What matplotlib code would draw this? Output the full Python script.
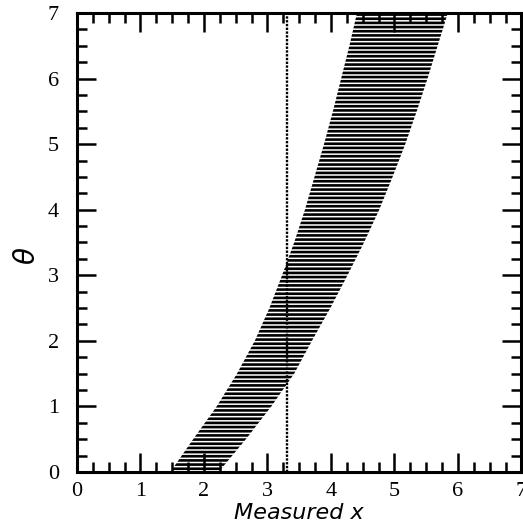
import numpy as np
import matplotlib
matplotlib.use('Agg')
import matplotlib.pyplot as plt
from matplotlib.ticker import MultipleLocator

# confidence belt edges read at half-unit steps in theta
theta = [0.0, 0.5, 1.0, 1.5, 2.0, 2.5, 3.0, 3.5, 4.0, 4.5, 5.0, 5.5, 6.0, 6.5, 7.0]
x_low = [1.47, 1.83, 2.20, 2.52, 2.80, 3.03, 3.23, 3.42, 3.59, 3.74, 3.89, 4.03, 4.16, 4.29, 4.41]
x_high = [2.23, 2.66, 3.06, 3.42, 3.70, 3.99, 4.26, 4.52, 4.76, 4.97, 5.17, 5.35, 5.52, 5.68, 5.84]

# the measured value
x_obs = 3.3

plt.rcParams['hatch.linewidth'] = 1.9

fig = plt.figure(figsize=(5.23, 5.27), dpi=100)
ax = fig.add_axes([0.1472, 0.1044, 0.8499, 0.8710])

# horizontal slices of the belt
ax.fill_betweenx(theta, x_low, x_high, facecolor='none', edgecolor='black',
                 linewidth=0, hatch='----')

ax.axvline(x_obs, color='black', lw=1.7, linestyle=(0, (1.0, 0.6)))

ax.set_xlim(0, 7)
ax.set_ylim(0, 7)

ax.xaxis.set_major_locator(MultipleLocator(1))
ax.yaxis.set_major_locator(MultipleLocator(1))
ax.xaxis.set_minor_locator(MultipleLocator(0.25))
ax.yaxis.set_minor_locator(MultipleLocator(0.25))

for s in ax.spines.values():
    s.set_linewidth(2.2)

ax.tick_params(which='both', direction='in', top=True, right=True, width=1.8)
ax.tick_params(which='major', length=13.5)
ax.tick_params(which='minor', length=7)
ax.tick_params(axis='x', which='major', pad=7)
ax.tick_params(axis='y', which='major', pad=13)

for lab in ax.get_xticklabels() + ax.get_yticklabels():
    lab.set_fontfamily('Liberation Serif')
    lab.set_fontsize(16)

ax.set_xlabel('Measured x', fontsize=16, style='italic', family='DejaVu Sans')
ax.xaxis.set_label_coords(0.5, -0.067)
ax.set_ylabel(r'$\theta$', fontsize=20)
ax.yaxis.set_label_coords(-0.08, 0.47)

fig.savefig('out.png', dpi=100)
